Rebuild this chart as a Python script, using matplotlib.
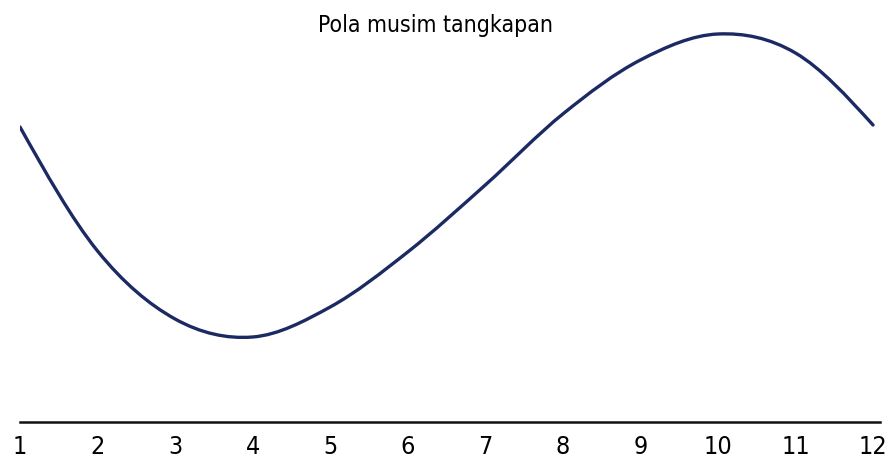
import matplotlib
matplotlib.use("Agg")
import matplotlib.pyplot as plt
from matplotlib.path import Path
from matplotlib.patches import PathPatch

# monthly pattern (arbitrary units)
months = [1, 2, 3, 4, 5, 6, 7, 8, 9, 10, 11, 12]
catch = [29.5, 17.1, 10.3, 8.5, 11.5, 17.0, 23.7, 30.8, 36.2, 38.8, 36.9, 29.7]
tick_labels = [str(m) for m in months]
title = "Pola musim tangkapan"

plt.rcParams['font.family'] = ['DejaVu Sans']
plt.rcParams['font.stretch'] = 'condensed'

fig = plt.figure(figsize=(8.92, 4.59), dpi=100)
ax = fig.add_axes([20 / 892, 37 / 459, 860 / 892, 400 / 459])

# smoothed line (Catmull-Rom as bezier segments, like a spreadsheet "smoothed line")
n = len(months)
tang = []
for i in range(n):
    if 0 < i < n - 1:
        tang.append((catch[i + 1] - catch[i - 1]) / 2)
    else:
        tang.append(None)
tang[0] = 1.5 * (catch[1] - catch[0]) - 0.5 * tang[1]
tang[-1] = 1.5 * (catch[-1] - catch[-2]) - 0.5 * tang[-2]

verts = [(months[0], catch[0])]
codes = [Path.MOVETO]
for i in range(n - 1):
    h = months[i + 1] - months[i]
    verts += [(months[i] + h / 3, catch[i] + tang[i] * h / 3),
              (months[i + 1] - h / 3, catch[i + 1] - tang[i + 1] * h / 3),
              (months[i + 1], catch[i + 1])]
    codes += [Path.CURVE4] * 3
ax.add_patch(PathPatch(Path(verts, codes), facecolor='none',
                       edgecolor='#1c2a63', lw=2.4, capstyle='round'))

ax.set_xlim(1, 12.09)
ax.set_ylim(0, 40)
for s in ['top', 'right', 'left']:
    ax.spines[s].set_visible(False)
ax.spines['bottom'].set_linewidth(1.8)
ax.spines['bottom'].set_color('#111111')
ax.set_yticks([])
ax.set_xticks(months)
ax.set_xticklabels(tick_labels, fontsize=18, fontstretch='condensed')
ax.tick_params(axis='x', length=0, pad=9)

fig.text(436 / 892, 1 - 32 / 459, title, ha='center', va='baseline',
         fontsize=16.5, fontstretch='condensed')

fig.savefig("out.png", dpi=100, facecolor='white')
